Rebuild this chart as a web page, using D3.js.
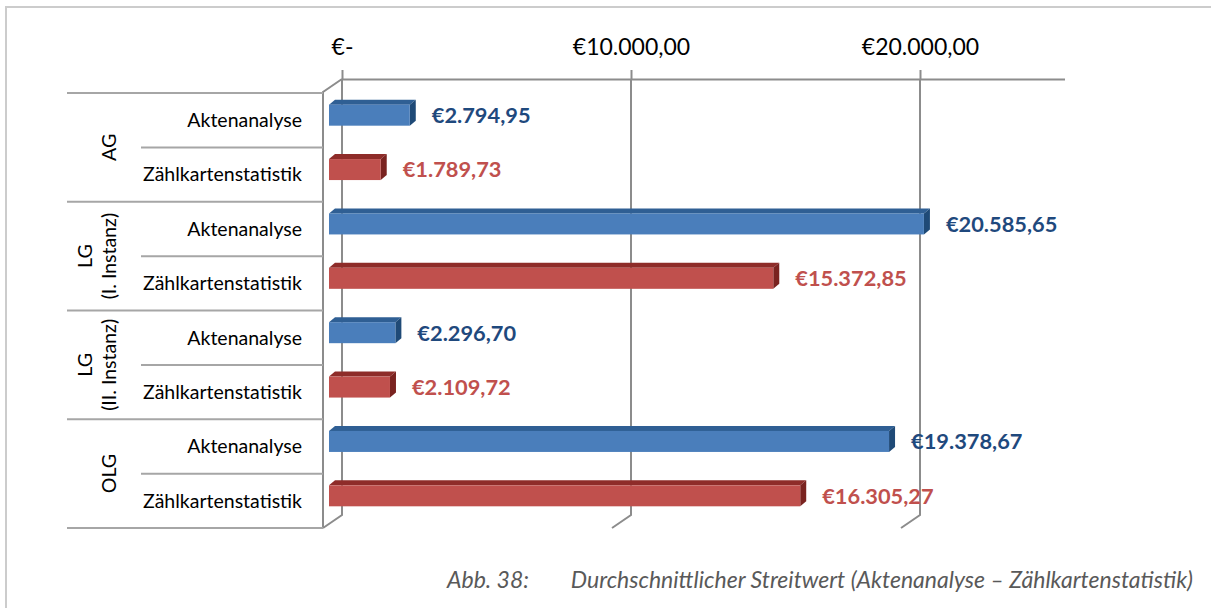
<!DOCTYPE html>
<html>
<head>
<meta charset="utf-8">
<script src="https://cdn.jsdelivr.net/npm/d3@7/dist/d3.min.js"></script>
<style>
  html, body { margin: 0; padding: 0; background: #fff; }
  svg { display: block; font-family: Lato, "Liberation Sans", sans-serif; }
</style>
</head>
<body>
<div class="canvas"></div>
<script>
// Data
const courts = ["AG", "LG (I. Instanz)", "LG (II. Instanz)", "OLG"];
const courtLines = [["AG"], ["LG", "(I. Instanz)"], ["LG", "(II. Instanz)"], ["OLG"]];
const sources = ["Aktenanalyse", "Zählkartenstatistik"];
const aktenValues = [2794.95, 20585.65, 2296.7, 19378.67];
const zaehlValues = [1789.73, 15372.85, 2109.72, 16305.27];
const tickValues = [0, 10000, 20000];
const captionNo = "Abb. 38:";
const captionText = "Durchschnittlicher Streitwert (Aktenanalyse – Zählkartenstatistik)";

const rows = [];
courts.forEach((c, i) => {
  rows.push({ court: c, source: sources[0], value: aktenValues[i] });
  rows.push({ court: c, source: sources[1], value: zaehlValues[i] });
});

// German currency format
const de = d3.formatLocale({
  decimal: ",",
  thousands: ".",
  grouping: [3],
  currency: ["€", ""],
});
const euro = de.format("$,.2f");

/////////////////////////////////////////////////
// Setup
/////////////////////////////////////////////////
const width = 1211;
const height = 608;

// 3D wall depth (back -> front)
const depthX = -19;
const depthY = 13;

const axisY = 79;
const floorY = 528; // front plane bottom
const frontX = 342 + depthX;

const fill = {
  Aktenanalyse: { front: "#4a7ebb", top: "#2f5f94", side: "#1f4a77", label: "#1f497d" },
  "Zählkartenstatistik": { front: "#c0504d", top: "#8e2c29", side: "#7a2320", label: "#c0504d" },
};

const x = d3.scaleLinear().domain([0, 25000]).range([342, 1064.5]);
const yGroup = d3.scaleBand().domain(courts).range([axisY + depthY + 1, floorY]);
const ySub = d3.scaleBand().domain(sources).range([0, yGroup.bandwidth()]);

const rowCenter = (d) => yGroup(d.court) + ySub(d.source) + ySub.bandwidth() / 2;

const svg = d3
  .select(".canvas")
  .append("svg")
  .attr("width", width)
  .attr("height", height);

// Outer frame
svg
  .append("path")
  .attr("d", `M6,${height} V7 H${width}`)
  .attr("fill", "none")
  .attr("stroke", "#cccccc")
  .attr("stroke-width", 2);

/////////////////////////////////////////////////
// Walls, grid and axis
/////////////////////////////////////////////////
const gridGroup = svg.append("g");

gridGroup
  .selectAll("path")
  .data(tickValues)
  .enter()
  .append("path")
  .attr(
    "d",
    (d) =>
      `M${x(d)},${axisY} V${floorY - depthY} L${x(d) + depthX},${floorY}`
  )
  .attr("fill", "none")
  .attr("stroke", "#8c8c8c")
  .attr("stroke-width", 2);

// Left side wall edge
gridGroup
  .append("path")
  .attr(
    "d",
    `M${x(0)},${axisY} L${frontX},${axisY + depthY} V${floorY}`
  )
  .attr("fill", "none")
  .attr("stroke", "#8c8c8c")
  .attr("stroke-width", 2);

const xAxis = d3
  .axisTop(x)
  .tickValues(tickValues)
  .tickSize(9)
  .tickSizeOuter(0)
  .tickPadding(15)
  .tickFormat((d) => (d === 0 ? "€-" : euro(d)));

const axisGroup = svg
  .append("g")
  .attr("transform", `translate(0, ${axisY})`)
  .call(xAxis);

axisGroup.select(".domain").attr("stroke", "#8c8c8c").attr("stroke-width", 2);
axisGroup.selectAll(".tick line").attr("stroke", "#8c8c8c").attr("stroke-width", 2);
axisGroup
  .selectAll(".tick text")
  .attr("font-family", "Lato, sans-serif")
  .attr("font-size", 23)
  .attr("fill", "#000");

/////////////////////////////////////////////////
// Category labels (two levels)
/////////////////////////////////////////////////
const catGroup = svg.append("g");
const catLeft = 67;
const subLeft = 141;

const groupEdges = courts.map((c) => yGroup(c)).concat([floorY]);
catGroup
  .selectAll(".group-line")
  .data(groupEdges)
  .enter()
  .append("line")
  .attr("x1", catLeft)
  .attr("x2", frontX)
  .attr("y1", (d) => d)
  .attr("y2", (d) => d)
  .attr("stroke", "#a6a6a6")
  .attr("stroke-width", 2);

catGroup
  .selectAll(".sub-line")
  .data(courts)
  .enter()
  .append("line")
  .attr("x1", subLeft)
  .attr("x2", frontX)
  .attr("y1", (d) => yGroup(d) + ySub(sources[1]))
  .attr("y2", (d) => yGroup(d) + ySub(sources[1]))
  .attr("stroke", "#a6a6a6")
  .attr("stroke-width", 2);

catGroup
  .selectAll(".sub-label")
  .data(rows)
  .enter()
  .append("text")
  .attr("x", 302)
  .attr("y", rowCenter)
  .attr("dy", "0.35em")
  .attr("text-anchor", "end")
  .attr("font-size", 19.5)
  .attr("fill", "#000")
  .text((d) => d.source);

const groupLabels = catGroup
  .selectAll(".group-label")
  .data(courts)
  .enter()
  .append("text")
  .attr("font-size", 19.5)
  .attr("fill", "#000")
  .attr("text-anchor", "middle")
  .attr("transform", (d, i) => {
    const cy = yGroup(d) + yGroup.bandwidth() / 2;
    const cx = courtLines[i].length > 1 ? 97 : 109;
    return `translate(${cx}, ${cy}) rotate(-90)`;
  });

groupLabels
  .selectAll("tspan")
  .data((d, i) => courtLines[i].map((t, j, arr) => ({ t, off: (j - (arr.length - 1) / 2) * 24 })))
  .enter()
  .append("tspan")
  .attr("x", 0)
  .attr("y", (d) => d.off)
  .attr("dy", "0.35em")
  .text((d) => d.t);

/////////////////////////////////////////////////
// 3D bars
/////////////////////////////////////////////////
const barH = 21;
const barShiftX = -13; // bar front face relative to back wall
const barLift = -5; // bar centre relative to front-plane row centre
const barDx = 6;
const barDy = -5;

const barGroup = svg.append("g");
const bars = barGroup.selectAll("g").data(rows).enter().append("g");

const x0 = (d) => x(0) + barShiftX;
const x1 = (d) => x(d.value) + barShiftX;
const yTop = (d) => rowCenter(d) + barLift - barH / 2;

bars
  .append("path")
  .attr("fill", (d) => fill[d.source].top)
  .attr("d", (d) => {
    const a = x0(d), b = x1(d), t = yTop(d);
    return `M${a},${t} L${a + barDx},${t + barDy} L${b + barDx},${t + barDy} L${b},${t} Z`;
  });

bars
  .append("path")
  .attr("fill", (d) => fill[d.source].side)
  .attr("d", (d) => {
    const b = x1(d), t = yTop(d);
    return `M${b},${t} L${b + barDx},${t + barDy} L${b + barDx},${t + barDy + barH} L${b},${t + barH} Z`;
  });

bars
  .append("rect")
  .attr("x", x0)
  .attr("y", yTop)
  .attr("width", (d) => x1(d) - x0(d))
  .attr("height", barH)
  .attr("fill", (d) => fill[d.source].front);

// Value labels
bars
  .append("text")
  .attr("x", (d) => x1(d) + 22)
  .attr("y", (d) => yTop(d) + barH / 2)
  .attr("dy", "0.36em")
  .attr("font-size", 21.8)
  .attr("font-weight", "bold")
  .attr("fill", (d) => fill[d.source].label)
  .text((d) => euro(d.value));

/////////////////////////////////////////////////
// Caption
/////////////////////////////////////////////////
const caption = svg
  .append("g")
  .attr("font-style", "italic")
  .attr("font-size", 23)
  .attr("fill", "#595959");

caption.append("text").attr("x", 447).attr("y", 588).text(captionNo);
caption
  .append("text")
  .attr("x", 1193)
  .attr("y", 588)
  .attr("text-anchor", "end")
  .text(captionText);
</script>
</body>
</html>
